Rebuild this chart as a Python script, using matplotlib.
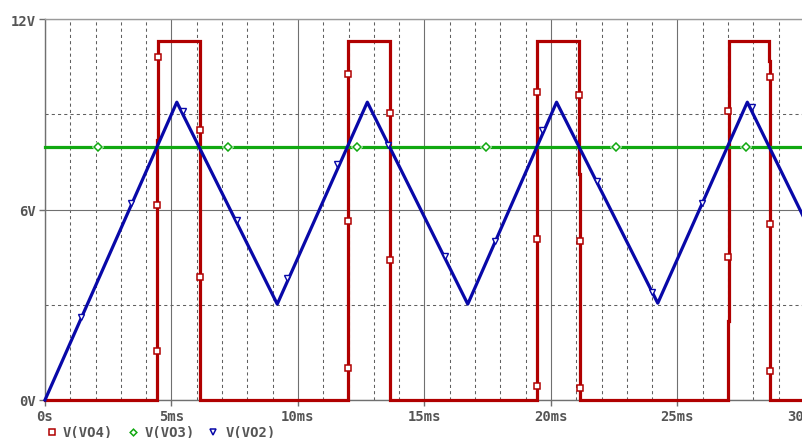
import matplotlib
matplotlib.use("Agg")
import matplotlib.pyplot as plt
from matplotlib.ticker import MultipleLocator, FixedLocator
from matplotlib.lines import Line2D

# ---------------- data ----------------
# V(VO2): triangle wave (vertices, ms / V)
vo2_t = [0.0, 5.21, 9.18, 12.74, 16.71, 20.22, 24.22, 27.76, 29.96]
vo2_v = [0.0, 9.38, 3.02, 9.38, 3.02, 9.38, 3.05, 9.38, 5.80]
vo2_mark_t = [1.42, 3.39, 5.44, 7.60, 9.58, 11.53, 13.57, 15.81, 17.79, 19.66, 21.80, 24.00, 25.98, 27.93]
vo2_mark_v = [2.60, 6.20, 9.11, 5.67, 3.84, 7.43, 8.03, 4.53, 5.00, 8.50, 6.91, 3.41, 6.19, 9.22]

# V(VO3): constant reference level
vo3_t = [0.0, 29.96]
vo3_v = [7.96, 7.96]
vo3_mark_t = [2.08, 7.22, 12.32, 17.43, 22.57, 27.70]
vo3_mark_v = [7.96, 7.96, 7.96, 7.96, 7.96, 7.96]

# V(VO4): comparator output (vertices)
vo4_t = [0.0, 4.42, 4.42, 4.46, 4.46, 6.12, 6.12,
         11.96, 11.96, 11.99, 11.99, 13.64, 13.64,
         19.46, 19.46, 21.11, 21.11, 21.16, 21.16,
         26.99, 26.99, 27.02, 27.02, 28.63, 28.63, 28.66, 28.66, 29.96]
vo4_v = [0.0, 0.0, 8.2, 8.2, 11.3, 11.3, 0.0,
         0.0, 0.71, 0.71, 11.3, 11.3, 0.0,
         0.0, 11.3, 11.3, 7.12, 7.12, 0.0,
         0.0, 2.5, 2.5, 11.3, 11.3, 10.69, 10.69, 0.0, 0.0]
vo4_mark_t = [4.45, 4.42, 4.42, 6.12, 6.12,
              11.99, 11.99, 11.98, 13.64, 13.64,
              19.46, 19.46, 19.46, 21.11, 21.15, 21.15,
              27.01, 27.01, 28.66, 28.66, 28.66]
vo4_mark_v = [10.79, 6.15, 1.53, 8.50, 3.88,
              10.27, 5.65, 1.00, 9.04, 4.42,
              9.69, 5.07, 0.45, 9.62, 5.00, 0.38,
              9.11, 4.49, 10.16, 5.54, 0.90]

x_ticks = [0, 5, 10, 15, 20, 25, 30]
x_labels = ["0s", "5ms", "10ms", "15ms", "20ms", "25ms", "30ms"]
y_ticks = [0, 6, 12]
y_labels = ["0V", "6V", "12V"]
legend_names = ["V(VO4)", "V(VO3)", "V(VO2)"]

# ---------------- style ----------------
RED = "#b00000"
GREEN = "#10a810"
BLUE = "#0808a8"
TXT = "#555555"
GRID = "#707070"
W, H = 803, 439

fig = plt.figure(figsize=(W / 100, H / 100), dpi=100)
fig.patch.set_facecolor("white")
ax = fig.add_axes([45 / W, (H - 401) / H, (804 - 45) / W, (401 - 20) / H])
ax.set_xlim(0, 30)
ax.set_ylim(0, 12)

font = dict(family="DejaVu Sans Mono", weight="bold", size=10, color=TXT)

ax.xaxis.set_major_locator(FixedLocator(x_ticks))
ax.yaxis.set_major_locator(FixedLocator(y_ticks))
ax.xaxis.set_minor_locator(MultipleLocator(1))
ax.yaxis.set_minor_locator(MultipleLocator(3))
ax.set_xticklabels(x_labels, **font)
ax.set_yticklabels(y_labels, **font)
ax.tick_params(which="major", direction="out", length=4, width=1, color=GRID, pad=2.5)
ax.tick_params(which="minor", length=0)

ax.grid(which="major", color=GRID, linewidth=0.8, linestyle="-")
ax.grid(which="minor", color="#606060", linewidth=0.75, linestyle=(0, (3, 3)))
ax.set_axisbelow(True)

for side in ("left", "bottom"):
    ax.spines[side].set_color(GRID)
    ax.spines[side].set_linewidth(1)
ax.spines["top"].set_color("#9a9a9a")
ax.spines["top"].set_linewidth(1)
ax.spines["right"].set_visible(False)

lw = 2.3
ax.plot(vo4_t, vo4_v, color=RED, lw=lw, clip_on=False, zorder=3, solid_joinstyle="miter")
ax.plot(vo3_t, vo3_v, color=GREEN, lw=lw, clip_on=False, zorder=4)
ax.plot(vo2_t, vo2_v, color=BLUE, lw=lw, clip_on=False, zorder=5)

ax.plot(vo4_mark_t, vo4_mark_v, ls="none", marker="s", ms=4.5, mfc="white",
        mec=RED, mew=1.1, zorder=6, clip_on=False)
ax.plot(vo3_mark_t, vo3_mark_v, ls="none", marker="D", ms=6, mfc="white",
        mec="white", mew=0, zorder=6)
ax.plot(vo3_mark_t, vo3_mark_v, ls="none", marker="D", ms=3.6, mfc="white",
        mec=GREEN, mew=1.1, zorder=7)
ax.plot(vo2_mark_t, vo2_mark_v, ls="none", marker="v", ms=4.2, mfc="white",
        mec=BLUE, mew=1.0, zorder=7)

# legend row
leg_y = 1 - 433 / H
leg_items = [(52, 63, "s", RED, 4.2), (133, 145, "D", GREEN, 3.4), (213, 226, "v", BLUE, 4.5)]
for (mx, tx, mk, col, ms), name in zip(leg_items, legend_names):
    fig.add_artist(Line2D([mx / W], [leg_y], transform=fig.transFigure,
                          ls="none", marker=mk, ms=ms, mfc="white", mec=col, mew=1.1))
    fig.text(tx / W, leg_y, name, ha="left", va="center", **font)

fig.savefig("out.png", dpi=100, facecolor="white")
